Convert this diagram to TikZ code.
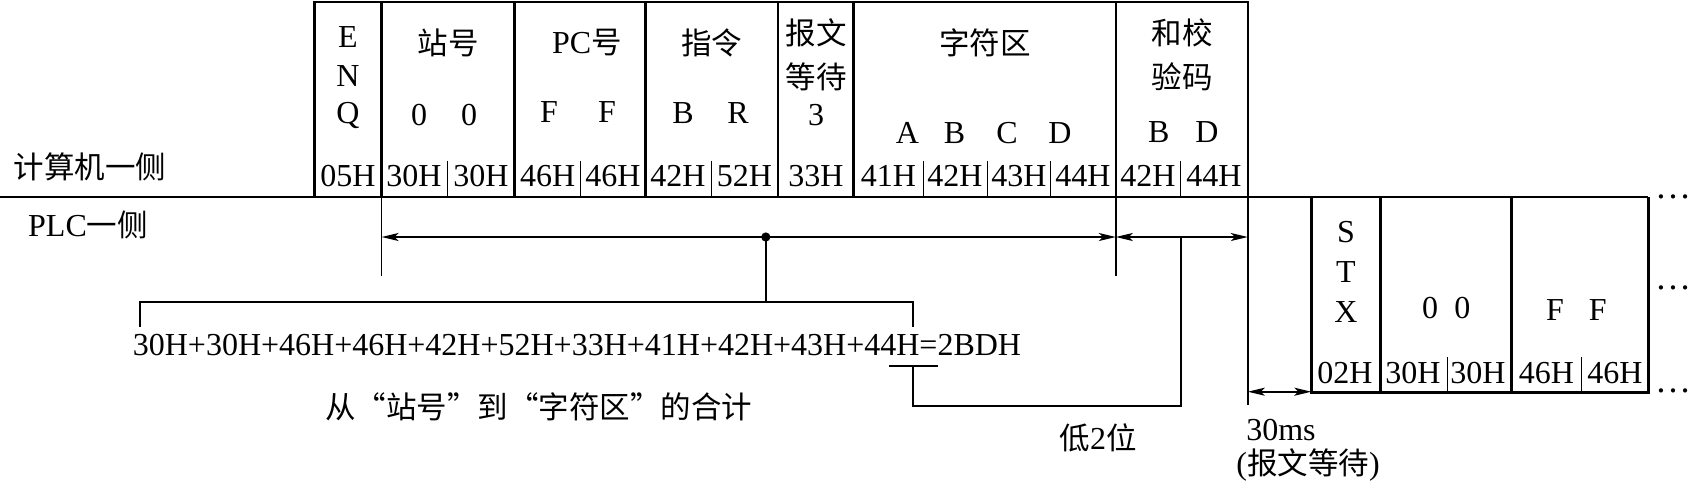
\documentclass[tikz,border=0pt]{standalone}
\usepackage{fontspec}
\setmainfont{Liberation Serif}
\newfontfamily\cjkfont{Noto Sans CJK SC}
\newcommand\zhtext[1]{{\cjkfont\fontsize{30.5}{30.5}\selectfont #1}}
\usetikzlibrary{arrows.meta}
\begin{document}
\begin{tikzpicture}[x=1pt,y=-1pt,
  >={Stealth[length=17pt,width=8pt,inset=4pt]},
  lat/.style={font=\fontsize{32}{32}\selectfont, inner sep=0pt},
  zh/.style={font=\cjkfont\fontsize{30.5}{30.5}\selectfont, inner sep=0pt},
  dotsty/.style={font=\fontsize{36}{36}\selectfont, inner sep=0pt},
  boxline/.style={line width=2.6pt},
  baseln/.style={line width=1.5pt},
  thinln/.style={line width=1.4pt},
  divln/.style={line width=0.9pt},
  arrln/.style={line width=1.6pt}]
\useasboundingbox (0,0) rectangle (1688,483);

% ---- top frame (computer side) ----
\draw[boxline] (314.6,197) -- (314.6,2) -- (1247.8,2) -- (1247.8,197);
\foreach \x in {381.6,514.7,645.2,777.8,853.6,1115.8}
  \draw[boxline] (\x,2) -- (\x,197);
\foreach \x in {447,580.6,711.3,923,987.4,1050.5,1180.6}
  \draw[divln] (\x,161) -- (\x,197);

% ---- baseline ----
\draw[baseln] (0,197) -- (1648.3,197);

% ---- lower frame (PLC side) ----
\draw[boxline] (1311.3,197) -- (1311.3,392.3) -- (1648.3,392.3) -- (1648.3,197);
\foreach \x in {1380.6,1511.4}
  \draw[boxline] (\x,197) -- (\x,392.3);
\foreach \x in {1447.9,1581.7}
  \draw[divln] (\x,357) -- (\x,392.3);

% ---- named points ----
\coordinate (v1t) at (381.6,197);  \coordinate (v1b) at (381.6,276);
\coordinate (v6t) at (1115.8,197); \coordinate (v6b) at (1115.8,276);
\coordinate (v7t) at (1247.8,197); \coordinate (v7b) at (1247.8,405);
\coordinate (aL) at (381.6,237);
\coordinate (aM) at (1115.8,237);
\coordinate (aR) at (1247.8,237);
\coordinate (dot) at (765.8,237);
\coordinate (dotb) at (765.8,301.7);
\coordinate (brL) at (139.8,301.7);
\coordinate (brLd) at (139.8,326.7);
\coordinate (brR) at (912.7,301.7);
\coordinate (brRd) at (912.7,326.7);
\coordinate (barL) at (889,366);
\coordinate (barR) at (938,366);
\coordinate (barC) at (912.7,366);
\coordinate (lowR) at (1181,406);
\coordinate (lowT) at (1181,237);
\coordinate (w1) at (1247.8,391.7);
\coordinate (w2) at (1311.3,391.7);

% ---- connectors ----
\draw[thinln] (v1t) -- (v1b);
\draw[thinln] (v6t) -- (v6b);
\draw[thinln] (v7t) -- (v7b);
\draw[arrln,<->] (aL) -- (aM);
\draw[arrln,<->] (aM) -- (aR);
\fill (dot) circle (4.6pt);
\draw[arrln] (dot) -- (dotb);
\draw[arrln] (brLd) -- (brL) -- (brR) -- (brRd);
\draw[line width=2.8pt] (barL) -- (barR);
\draw[arrln] (barC) |- (lowR) -- (lowT);
\draw[arrln,<->] (w1) -- (w2);

% ---- side labels ----
\node[zh] (pc) at (90,167) {计算机一侧};
\node[lat] (plc) at (88,225) {PLC\zhtext{一侧}};

% ---- top row texts ----
\node[lat] (e) at (348,37) {E};
\node[lat] (n) at (348,76) {N};
\node[lat] (q) at (348,115) {Q};
\node[zh] (zhan) at (448,43) {站号};
\node[lat] (z1) at (419,115) {0};
\node[lat] (z2) at (469,115) {0};
\node[lat] (pch) at (587,43) {PC\zhtext{号}};
\node[lat] (f1) at (549,112) {F};
\node[lat] (f2) at (607,112) {F};
\node[zh] (zl) at (711.5,43) {指令};
\node[lat] (b1) at (683,113) {B};
\node[lat] (r1) at (738,113) {R};
\node[zh] (bw1) at (816,33) {报文};
\node[zh] (bw2) at (816,77) {等待};
\node[lat] (three) at (816,115) {3};
\node[zh] (zfq) at (985,43) {字符区};
\node[lat] (ca) at (907.5,133) {A};
\node[lat] (cb) at (954.6,133) {B};
\node[lat] (cc) at (1007,133) {C};
\node[lat] (cd) at (1060,133) {D};
\node[zh] (hj1) at (1182,33) {和校};
\node[zh] (hj2) at (1182,77) {验码};
\node[lat] (hb) at (1158.7,132) {B};
\node[lat] (hd) at (1207,132) {D};

% hex row
\node[lat] at (348,176) {05H};
\node[lat] at (414,176) {30H};
\node[lat] at (481,176) {30H};
\node[lat] at (547.6,176) {46H};
\node[lat] at (613,176) {46H};
\node[lat] at (678,176) {42H};
\node[lat] at (744.5,176) {52H};
\node[lat] at (816,176) {33H};
\node[lat] at (888.5,176) {41H};
\node[lat] at (955,176) {42H};
\node[lat] at (1019,176) {43H};
\node[lat] at (1083,176) {44H};
\node[lat] at (1148,176) {42H};
\node[lat] at (1214,176) {44H};

% ---- lower row texts ----
\node[lat] at (1346,231.7) {S};
\node[lat] at (1346,271.7) {T};
\node[lat] at (1346,311.7) {X};
\node[lat] at (1430,308) {0};
\node[lat] at (1462.3,308) {0};
\node[lat] at (1555,310) {F};
\node[lat] at (1597.8,310) {F};
\node[lat] at (1345,373) {02H};
\node[lat] at (1413,373) {30H};
\node[lat] at (1478,373) {30H};
\node[lat] at (1546.5,373) {46H};
\node[lat] at (1615,373) {46H};

% continuation dots
\node[dotsty] at (1673,196.7) {…};
\node[dotsty] at (1673,288) {…};
\node[dotsty] at (1673,390.7) {…};

% ---- bottom texts ----
\node[lat] (sum) at (577,345) {30H+30H+46H+46H+42H+52H+33H+41H+42H+43H+44H=2BDH};
\node[zh] (note) at (538.5,406.7) {从“站号”到“字符区”的合计};
\node[lat] (low) at (1098,438) {\zhtext{低}2\zhtext{位}};
\node[lat] (ms) at (1281,430) {30ms};
\node[lat] (wait) at (1308,465) {(\zhtext{报文等待})};
\end{tikzpicture}
\end{document}
